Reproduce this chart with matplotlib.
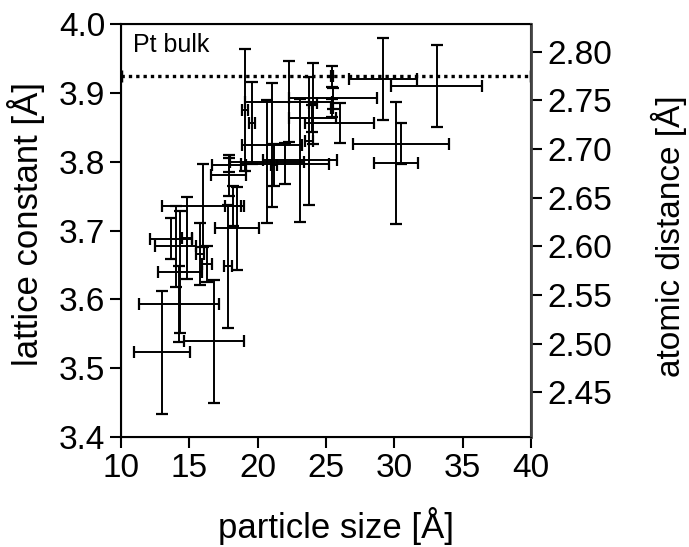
import numpy as np
import matplotlib.pyplot as plt

plt.rcParams['font.family'] = ['Liberation Sans', 'DejaVu Sans']

# particle size [A], lattice constant [A] and their errors
size = [13.0, 16.8, 14.25, 14.3, 13.66, 14.0, 14.8, 16.3, 16.0, 15.8,
        17.83, 18.2, 18.5, 17.9, 17.9,
        19.07, 19.58, 21.05, 22.0, 23.1, 20.7, 21.2, 23.75, 22.29, 24.05,
        25.44, 25.5, 25.44, 24.0, 26.0,
        29.17, 33.12, 30.12, 30.49]
size_err = [2.05, 2.2, 2.9, 1.6, 1.54, 1.5, 0.37, 0.35, 3.0, 0.3,
            0.3, 0.6, 1.6, 1.25, 1.28,
            0.2, 0.2, 2.2, 3.2, 2.7, 2.7, 0.2, 0.3, 3.18, 0.3,
            0.1, 3.2, 0.1, 1.7, 2.52,
            2.52, 3.33, 1.61, 3.5]
lattice = [3.523, 3.539, 3.593, 3.640, 3.688, 3.677, 3.689, 3.651, 3.736, 3.666,
           3.648, 3.735, 3.703, 3.795, 3.780,
           3.875, 3.856, 3.824, 3.797, 3.802, 3.800, 3.795, 3.830, 3.887, 3.885,
           3.924, 3.892, 3.878, 3.863, 3.856,
           3.920, 3.910, 3.798, 3.826]
lattice_err = [0.089, 0.089, 0.055, 0.089, 0.030, 0.059, 0.060, 0.026, 0.060, 0.045,
               0.089, 0.029, 0.060, 0.010, 0.030,
               0.089, 0.060, 0.090, 0.030, 0.089, 0.089, 0.030, 0.093, 0.059, 0.059,
               0.015, 0.015, 0.013, 0.020, 0.029,
               0.060, 0.060, 0.089, 0.030]

pt_bulk = 3.924
right_ticks = [2.45, 2.50, 2.55, 2.60, 2.65, 2.70, 2.75, 2.80]

fig = plt.figure(figsize=(6.89, 5.47), dpi=100)
ax = fig.add_axes([0.1756, 0.2011, 0.5951, 0.755])

ax.errorbar(size, lattice, xerr=size_err, yerr=lattice_err, fmt='none',
            ecolor='black', elinewidth=1.4, capsize=4, capthick=1.6)

# Pt bulk reference line
ax.plot([10, 40], [pt_bulk, pt_bulk], color='black', linestyle=(0, (1, 1.2)),
        linewidth=2.4, marker='|', markersize=9, markeredgewidth=2.5)
ax.text(10.9, 3.969, 'Pt bulk', fontsize=18, ha='left', va='center')

ax.set_xlim(10, 40)
ax.set_ylim(3.4, 4.0)
ax.set_xticks([10, 15, 20, 25, 30, 35, 40])
ax.set_yticks([3.4, 3.5, 3.6, 3.7, 3.8, 3.9, 4.0])
ax.tick_params(axis='both', labelsize=24, direction='out', length=8, width=1.5)
ax.set_xlabel('particle size [Å]', fontsize=25)
ax.set_ylabel('lattice constant [Å]', fontsize=25)
ax.xaxis.set_label_coords(0.525, -0.17)
ax.yaxis.set_label_coords(-0.185, 0.515)
for s in ax.spines.values():
    s.set_linewidth(1.5)

# atomic distance = lattice constant / sqrt(2)
ax2 = ax.twinx()
ax2.set_ylim(3.4 / np.sqrt(2), 4.0 / np.sqrt(2))
ax2.set_yticks(right_ticks)
ax2.set_yticklabels([f'{t:.2f}' for t in right_ticks])
ax2.tick_params(axis='y', labelsize=24, direction='out', length=8, width=1.5)
ax2.set_ylabel('atomic distance [Å]', fontsize=24)
ax2.yaxis.set_label_coords(1.292, 0.487)
ax2.spines['right'].set_linewidth(2)
ax2.spines['right'].set_color('#444444')

fig.savefig('out.png', dpi=100)
